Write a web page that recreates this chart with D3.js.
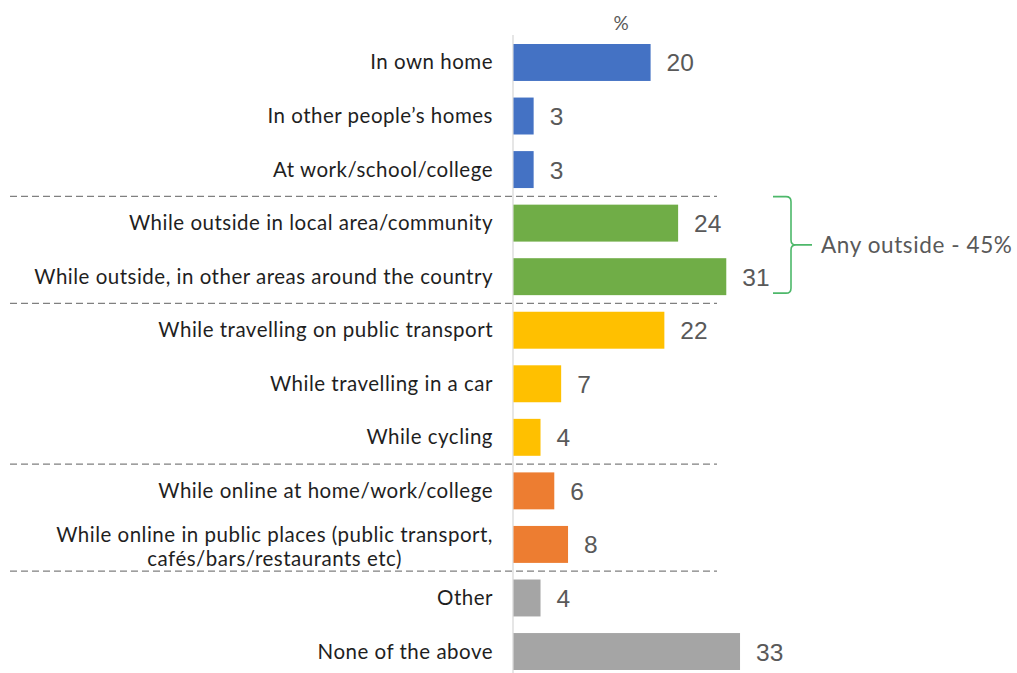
<!DOCTYPE html>
<html>
<head>
<meta charset="utf-8">
<script src="https://cdn.jsdelivr.net/npm/d3@7"></script>
<style>
  html, body { margin: 0; padding: 0; background: #fff; }
  svg { display: block; }
</style>
</head>
<body>
<svg id="chart" width="1017" height="673"></svg>
<script>
// Where incidents happened (% of respondents)
const categories = [
  "In own home",
  "In other people\u2019s homes",
  "At work/school/college",
  "While outside in local area/community",
  "While outside, in other areas around the country",
  "While travelling on public transport",
  "While travelling in a car",
  "While cycling",
  "While online at home/work/college",
  "While online in public places (public transport,|caf\u00e9s/bars/restaurants etc)",
  "Other",
  "None of the above"
];
const values = [20, 3, 3, 24, 31, 22, 7, 4, 6, 8, 4, 33];
const groups = ["home", "home", "home", "outside", "outside", "travel", "travel", "travel", "online", "online", "other", "other"];
const groupNames = ["home", "outside", "travel", "online", "other"];
const groupColors = ["#4472C4", "#70AD47", "#FFC000", "#ED7D31", "#A5A5A5"];
const unitLabel = "%";
const bracketLabel = "Any outside - 45%";
const bracketGroup = "outside";

const svg = d3.select("#chart");

const color = d3.scaleOrdinal().domain(groupNames).range(groupColors);

const x = d3.scaleLinear().domain([0, 35]).range([513, 513 + 35 * 6.88]);
const y = d3.scaleBand()
  .domain(categories)
  .range([35.7, 678.3])
  .paddingInner(0.31)
  .paddingOuter(0.155);

const labelFont = "Lato, 'Open Sans', sans-serif";
const valueFont = "'Liberation Sans', Arial, sans-serif";

// vertical baseline
svg.append("line")
  .attr("x1", x(0)).attr("x2", x(0))
  .attr("y1", 35).attr("y2", 673)
  .attr("stroke", "#d9d9d9").attr("stroke-width", 1.3);

// unit header
svg.append("text")
  .attr("x", 621).attr("y", 30)
  .attr("text-anchor", "middle")
  .attr("font-family", labelFont).attr("font-size", 19)
  .attr("fill", "#595959")
  .text(unitLabel);

// dashed separators between groups
const step = y.step();
const seps = [];
for (let i = 1; i < categories.length; i++) {
  if (groups[i] !== groups[i - 1]) seps.push(y(categories[i]) - (step - y.bandwidth()) / 2);
}
svg.selectAll("line.sep").data(seps).join("line")
  .attr("class", "sep")
  .attr("x1", 10).attr("x2", 717)
  .attr("y1", d => d).attr("y2", d => d)
  .attr("stroke", "#808080").attr("stroke-width", 1.2)
  .attr("stroke-dasharray", "7,4");

// bars
svg.selectAll("rect.bar").data(categories).join("rect")
  .attr("class", "bar")
  .attr("x", x(0) + 0.5)
  .attr("y", d => y(d))
  .attr("width", (d, i) => x(values[i]) - x(0) - 0.5)
  .attr("height", y.bandwidth())
  .attr("fill", (d, i) => color(groups[i]));

// value labels
svg.selectAll("text.val").data(categories).join("text")
  .attr("class", "val")
  .attr("x", (d, i) => x(values[i]) + 16)
  .attr("y", d => y(d) + y.bandwidth() / 2 + 9)
  .attr("font-family", valueFont).attr("font-size", 24.5)
  .attr("fill", "#595959")
  .text((d, i) => values[i]);

// category labels (right-aligned; wrapped labels centred on their widest line)
const labelRight = 493;
const lab = svg.selectAll("g.lab").data(categories).join("g").attr("class", "lab");
lab.each(function(d) {
  const g = d3.select(this);
  const lines = d.split("|");
  const cy = y(d) + y.bandwidth() / 2;
  const lh = 24;
  const t = g.append("text")
    .attr("font-family", labelFont).attr("font-size", 20.5)
    .attr("letter-spacing", 0.5)
    .attr("fill", "#1f1f1f");
  if (lines.length === 1) {
    t.attr("x", labelRight).attr("y", cy + 7).attr("text-anchor", "end").text(lines[0]);
  } else {
    const spans = lines.map((s, k) => t.append("tspan")
      .attr("y", cy + 10 + (k - (lines.length - 1) / 2) * lh).text(s));
    const w = d3.max(spans, s => s.node().getComputedTextLength());
    spans.forEach(s => s.attr("x", labelRight - w / 2));
    t.attr("text-anchor", "middle");
  }
});

// curly bracket around the "outside" group
const gi = groups.map((g, i) => g === bracketGroup ? i : -1).filter(i => i >= 0);
const bTop = y(categories[gi[0]]) - 8;
const bBot = y(categories[gi[gi.length - 1]]) + y.bandwidth() - 2;
const bMid = (bTop + bBot) / 2;
const bx = 791, r = 5;
const path = d3.path();
path.moveTo(773, bTop);
path.lineTo(bx - r, bTop);
path.quadraticCurveTo(bx, bTop, bx, bTop + r);
path.lineTo(bx, bMid - r);
path.quadraticCurveTo(bx, bMid, bx + r, bMid);
path.lineTo(812, bMid);
path.moveTo(bx + r, bMid);
path.quadraticCurveTo(bx, bMid, bx, bMid + r);
path.lineTo(bx, bBot - r);
path.quadraticCurveTo(bx, bBot, bx - r, bBot);
path.lineTo(773, bBot);
svg.append("path")
  .attr("d", path.toString())
  .attr("fill", "none")
  .attr("stroke", "#4DB86A").attr("stroke-width", 1.6);

svg.append("text")
  .attr("x", 821).attr("y", bMid + 8)
  .attr("font-family", labelFont).attr("font-size", 22.5)
  .attr("letter-spacing", 0.6)
  .attr("fill", "#595959")
  .text(bracketLabel);
</script>
</body>
</html>
